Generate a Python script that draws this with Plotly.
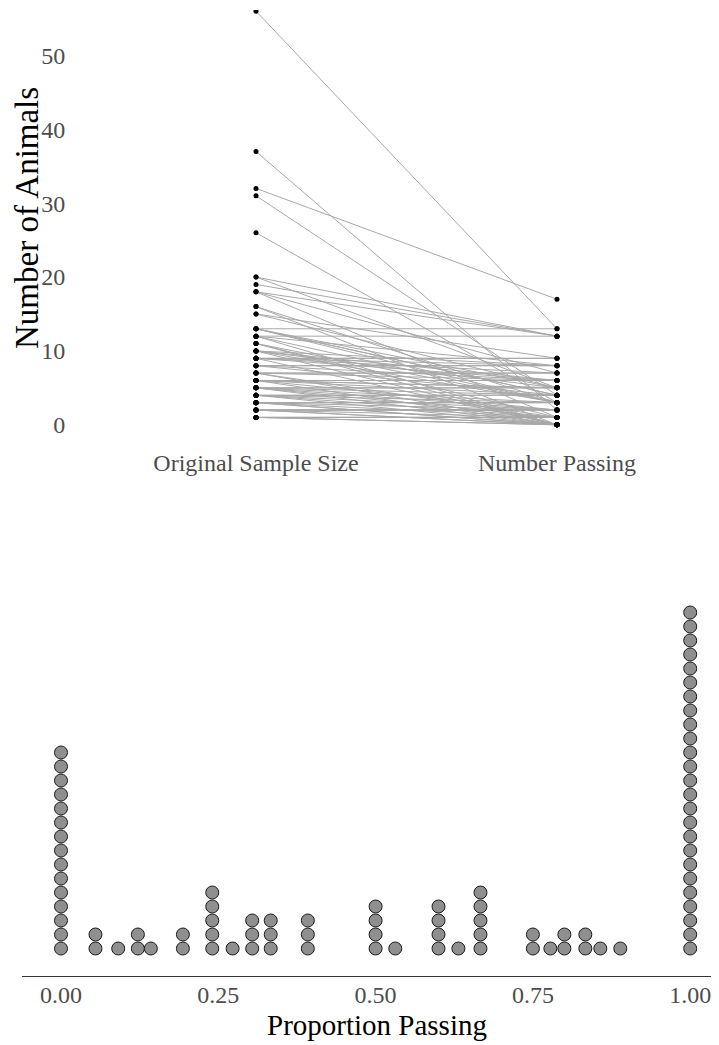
import plotly.graph_objects as go

# ---- data ----
original_size = [1, 1, 2, 2, 3, 3, 4, 5, 6, 7, 9, 10, 11, 12, 16,
                 37, 18, 11, 26, 31, 7, 16, 5, 13, 56, 4, 12, 20, 11, 10, 13, 13, 3, 6, 15,
                 13, 18, 5, 2, 4, 8, 10, 32, 5, 10, 20, 15, 19, 3, 6, 9, 12, 18, 4, 8, 9, 5,
                 10, 6, 6, 7, 9,
                 1, 1, 1, 1, 2, 2, 2, 2, 3, 3, 3, 4, 4, 5, 5, 6, 6, 7, 7, 8, 8, 9, 9, 12, 13]
number_passing = [0, 0, 0, 0, 0, 0, 0, 0, 0, 0, 0, 0, 0, 0, 0,
                  2, 1, 1, 3, 4, 1, 3, 1, 3, 13, 1, 3, 5, 3, 3, 4, 4, 1, 2, 5,
                  5, 7, 2, 1, 2, 4, 5, 17, 3, 6, 12, 9, 12, 2, 4, 6, 8, 12, 3, 6, 7, 4,
                  8, 5, 5, 6, 8,
                  1, 1, 1, 1, 2, 2, 2, 2, 3, 3, 3, 4, 4, 5, 5, 6, 6, 7, 7, 8, 8, 9, 9, 12, 13]
category_labels = ["Original Sample Size", "Number Passing"]
y_ticks = [0, 10, 20, 30, 40, 50]
prop_ticks = [0.0, 0.25, 0.5, 0.75, 1.0]
prop_tick_labels = ["0.00", "0.25", "0.50", "0.75", "1.00"]

OFF = 8  # page body margin
W, H = 719 - OFF, 1045 - OFF
FONT = "Liberation Serif"

fig = go.Figure()

# ---- top: paired lines ----
lx, ly = [], []
for o, p in zip(original_size, number_passing):
    lx += [0, 1, None]
    ly += [o, p, None]
fig.add_trace(go.Scatter(x=lx, y=ly, mode="lines",
                         line=dict(color="#a8a8a8", width=1),
                         hoverinfo="skip", showlegend=False,
                         xaxis="x", yaxis="y"))
fig.add_trace(go.Scatter(x=[0] * len(original_size) + [1] * len(number_passing),
                         y=original_size + number_passing, mode="markers",
                         marker=dict(color="black", size=5),
                         showlegend=False, xaxis="x", yaxis="y"))

# ---- bottom: dot plot of proportions (dot-density binning) ----
props = [p / o for o, p in zip(original_size, number_passing)]
order = sorted(range(len(props)), key=lambda i: props[i])
binwidth = 0.022
bins = []
for i in order:
    if bins and props[i] < bins[-1][0] + binwidth - 1e-9:
        bins[-1][1].append(i)
    else:
        bins.append([props[i], [i]])
dot_x, dot_y = [], []
for start, members in bins:
    vals = [props[i] for i in members]
    c = (min(vals) + max(vals)) / 2
    for k in range(len(members)):
        dot_x.append(c)
        dot_y.append(k)
fig.add_trace(go.Scatter(x=dot_x, y=dot_y, mode="markers",
                         marker=dict(color="#8f8f8f", size=13,
                                     line=dict(color="#1a1a1a", width=1)),
                         showlegend=False, xaxis="x2", yaxis="y2"))


def py(px):
    return 1 - (px - OFF) / H


def pxx(px):
    return (px - OFF) / W


# top panel geometry: categories at x=256, 557 px; value 0 at 424.8 px, 7.387 px/unit
top_left, top_top, top_bot = 75, 10, 445.5
u = 301.0
fig.update_layout(
    width=W, height=H, margin=dict(l=0, r=0, t=0, b=0),
    paper_bgcolor="white", plot_bgcolor="white",
    font=dict(family=FONT),
    xaxis=dict(domain=[pxx(top_left), 1], range=[(top_left - 256) / u, (719 - 256) / u],
               tickvals=[0, 1], ticktext=category_labels, showgrid=False, zeroline=False,
               showline=False, ticks="",
               tickfont=dict(size=24, color="#4d4d4d", family=FONT), anchor="y"),
    yaxis=dict(domain=[py(top_bot), py(top_top)],
               range=[-(top_bot - 424.8) / 7.387, (424.8 - top_top) / 7.387],
               tickvals=y_ticks, showgrid=False, zeroline=False, showline=False,
               ticks="outside", ticklen=4, tickcolor="rgba(0,0,0,0)",
               tickfont=dict(size=24, color="#4d4d4d", family=FONT), anchor="x"),
    xaxis2=dict(domain=[pxx(22), 1], range=[(22 - 61) / 629.2, (719 - 61) / 629.2],
                tickvals=prop_ticks, ticktext=prop_tick_labels, showgrid=False,
                zeroline=False, showline=True, linecolor="#333333", linewidth=1,
                ticks="", ticklabelstandoff=-3,
                tickfont=dict(size=24, color="#4d4d4d", family=FONT), anchor="y2"),
    yaxis2=dict(domain=[py(976), py(590)],
                range=[-(976 - 948.5) / 14.0, (948.5 - 590) / 14.0],
                showgrid=False, zeroline=False, showline=False, showticklabels=False,
                ticks="", anchor="x2"),
    annotations=[
        dict(text="Number of Animals", xref="paper", yref="paper", x=pxx(27), y=py(218),
             xanchor="center", yanchor="middle", textangle=-90, showarrow=False,
             font=dict(size=33, color="black", family=FONT)),
        dict(text="Proportion Passing", xref="paper", yref="paper", x=pxx(376.5), y=py(1025),
             xanchor="center", yanchor="middle", showarrow=False,
             font=dict(size=29, color="black", family=FONT)),
    ],
)

fig.write_html("out.html")
